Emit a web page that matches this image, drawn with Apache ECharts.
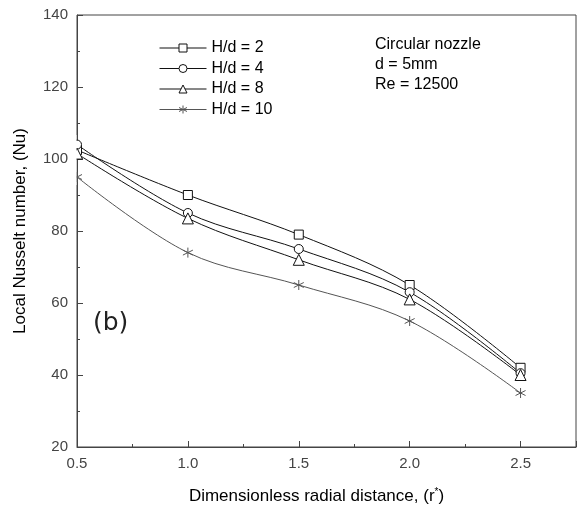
<!DOCTYPE html>
<html>
<head>
<meta charset="utf-8">
<script src="https://cdn.jsdelivr.net/npm/echarts@6/dist/echarts.min.js"></script>
<style>
  html, body { margin: 0; padding: 0; background: #fff; }
  #chart { width: 579px; height: 512px; }
</style>
</head>
<body>
<div id="chart"></div>
<script>
// Radial positions (r*) and local Nusselt numbers for each nozzle-to-plate spacing
const radialDistance = [0.5, 1.0, 1.5, 2.0, 2.5];
const nuHd2 = [102.5, 90, 79, 65, 42];
const nuHd4 = [104, 85, 75, 63, 40.5];
const nuHd8 = [101.5, 83.5, 72, 61, 40];
const nuHd10 = [95, 74, 65, 55, 35];

const seriesNames = ['H/d = 2', 'H/d = 4', 'H/d = 8', 'H/d = 10'];
const xTicks = { min: 0.5, max: 2.75, interval: 0.5 };
const yTicks = { min: 20, max: 140, interval: 20 };

const FONT = 'Liberation Sans, Arial, sans-serif';
const starPath = 'path://M5,0L5,10M0.67,2.5L9.33,7.5M0.67,7.5L9.33,2.5';

function pairs(ys) {
  return radialDistance.map((x, i) => [x, ys[i]]);
}

function makeSeries(name, ys, symbol, size, color) {
  return {
    name: name,
    type: 'line',
    data: pairs(ys),
    smooth: 0.35,
    symbol: symbol,
    symbolSize: size,
    showAllSymbol: true,
    lineStyle: { color: color, width: 1 },
    itemStyle: { color: '#fff', borderColor: color, borderWidth: 1 },
    emphasis: { disabled: true },
    z: 3
  };
}

const chart = echarts.init(document.getElementById('chart'), null, { renderer: 'canvas' });

chart.setOption({
  animation: false,
  backgroundColor: '#fff',
  grid: {
    left: 77, right: 3, top: 15, bottom: 65,
    show: true, borderColor: '#444', borderWidth: 1, backgroundColor: 'transparent'
  },
  legend: {
    orient: 'vertical',
    left: 154,
    top: 35,
    itemWidth: 47,
    itemHeight: 10,
    itemGap: 4.5,
    selectedMode: false,
    lineStyle: { width: 1 },
    itemStyle: { color: '#fff', borderWidth: 1 },
    textStyle: { fontSize: 16, fontFamily: FONT, color: '#000' },
    data: seriesNames
  },
  xAxis: {
    type: 'value',
    min: xTicks.min,
    max: xTicks.max,
    interval: xTicks.interval,
    name: 'Dimensionless radial distance, {s|(r}{sup|*}{s|)}',
    nameLocation: 'middle',
    nameGap: 40,
    nameTextStyle: {
      fontSize: 17, fontFamily: FONT, color: '#000', padding: [0, 20, 0, 0],
      rich: {
        s: { fontSize: 17, fontFamily: FONT, color: '#000' },
        sup: { fontSize: 10, fontFamily: FONT, color: '#000', verticalAlign: 'top', padding: [0, 0, 9, 0] }
      }
    },
    axisLine: { lineStyle: { color: '#444', width: 1 } },
    axisTick: { inside: true, length: 6, lineStyle: { color: '#444' } },
    minorTick: { show: true, splitNumber: 2, length: 3, lineStyle: { color: '#444' } },
    axisLabel: {
      fontSize: 15, fontFamily: FONT, color: '#444', margin: 9,
      showMaxLabel: false,
      formatter: v => v.toFixed(1)
    },
    splitLine: { show: false }
  },
  yAxis: {
    type: 'value',
    min: yTicks.min,
    max: yTicks.max,
    interval: yTicks.interval,
    name: 'Local Nusselt number, (Nu)',
    nameLocation: 'middle',
    nameGap: 48,
    nameTextStyle: { fontSize: 17, fontFamily: FONT, color: '#000' },
    axisLine: { show: true, lineStyle: { color: '#444', width: 1 } },
    axisTick: { show: true, inside: true, length: 6, lineStyle: { color: '#444' } },
    minorTick: { show: true, splitNumber: 2, length: 3, lineStyle: { color: '#444' } },
    axisLabel: { fontSize: 15, fontFamily: FONT, color: '#444', margin: 9 },
    splitLine: { show: false }
  },
  graphic: [
    {
      type: 'text', left: 375, top: 35,
      style: {
        text: 'Circular nozzle\nd = 5mm\nRe = 12500',
        font: '16px ' + FONT, fill: '#000', lineHeight: 20
      }
    },
    {
      type: 'text', left: 93, top: 311,
      style: { text: '(b)', font: '25px DejaVu Sans, sans-serif', fill: '#222' }
    },
    {
      // keep the plot frame's left side clean where the first markers meet the axis
      type: 'rect', left: 70, top: 135, z: 10,
      shape: { width: 6.5, height: 50 },
      style: { fill: '#fff' }
    }
  ],
  series: [
    makeSeries(seriesNames[0], nuHd2, 'rect', 9, '#111'),
    makeSeries(seriesNames[1], nuHd4, 'circle', 9, '#111'),
    makeSeries(seriesNames[2], nuHd8, 'triangle', 11, '#111'),
    makeSeries(seriesNames[3], nuHd10, starPath, 10, '#555')
  ]
});
</script>
</body>
</html>
